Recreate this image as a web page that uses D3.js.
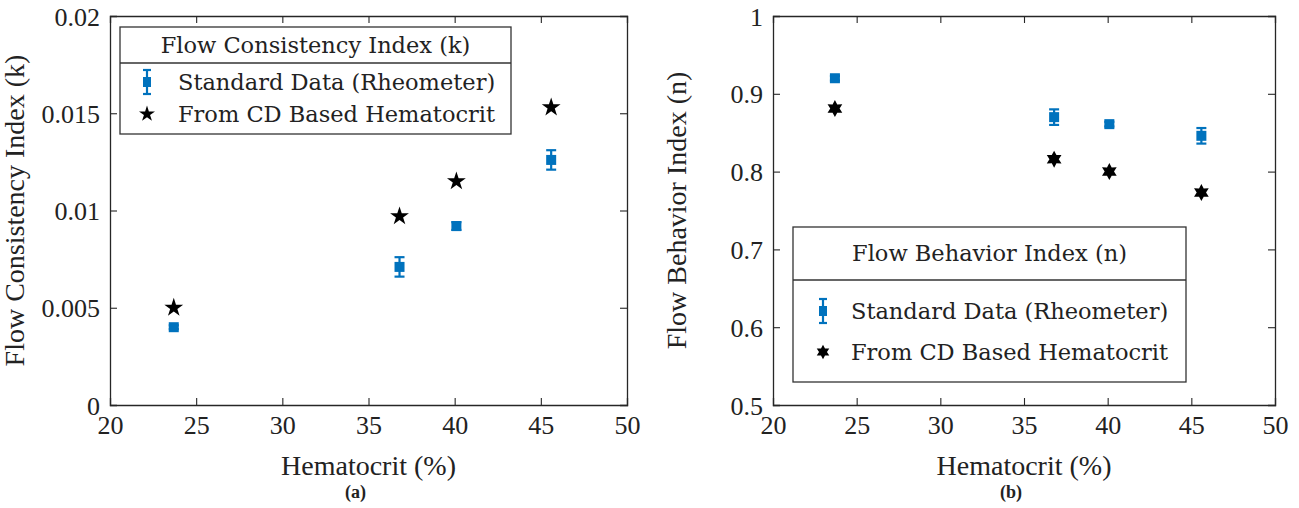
<!DOCTYPE html>
<html>
<head>
<meta charset="utf-8">
<script src="https://cdn.jsdelivr.net/npm/d3@7"></script>
<style>
  body { margin: 0; background: #fff; }
  text { font-family: "Liberation Serif", "Times New Roman", serif; fill: #222; }
</style>
</head>
<body>
<svg id="chart" width="1299" height="508"></svg>
<script>
// Data
const hematocrit = [23.7, 36.8, 40.1, 45.6];
const kStandard = [0.0040, 0.0071, 0.0092, 0.0126];
const kStandardErr = [0.0001, 0.0005, 0.0002, 0.0005];
const kFromCD = [0.0050, 0.0097, 0.0115, 0.0153];
const nStandard = [0.920, 0.870, 0.861, 0.846];
const nStandardErr = [0.003, 0.010, 0.003, 0.010];
const nFromCD = [0.881, 0.816, 0.800, 0.773];
const xTicks = [20, 25, 30, 35, 40, 45, 50];
const kTicks = [0, 0.005, 0.01, 0.015, 0.02];
const nTicks = [0.5, 0.6, 0.7, 0.8, 0.9, 1];

const blue = "#0072BD";
const svg = d3.select("#chart");

function drawPanel(opts) {
    const g = svg.append("g").attr("transform", `translate(${opts.left},${opts.top})`);
    const w = opts.width, h = opts.height;

    const x = d3.scaleLinear().domain([20, 50]).range([0, w]);
    const y = d3.scaleLinear().domain(opts.yDomain).range([h, 0]);

    // Axes (MATLAB style, ticks inside, box on)
    const tl = 7;
    const xAxis = g.append("g").attr("transform", `translate(0,${h})`)
        .call(d3.axisBottom(x).tickValues(xTicks).tickSize(-tl).tickPadding(15).tickFormat(d3.format("d")));
    const xTop = g.append("g").call(d3.axisTop(x).tickValues(xTicks).tickSize(-tl).tickFormat(""));
    const yAxis = g.append("g")
        .call(d3.axisLeft(y).tickValues(opts.yTicks).tickSize(-tl).tickPadding(10).tickFormat(d => String(d)));
    const yRight = g.append("g").attr("transform", `translate(${w},0)`)
        .call(d3.axisRight(y).tickValues(opts.yTicks).tickSize(-tl).tickFormat(""));
    [xAxis, xTop, yAxis, yRight].forEach(a => {
        a.select(".domain").attr("stroke", "#262626").attr("stroke-width", 1.3);
        a.selectAll(".tick line").attr("stroke", "#262626").attr("stroke-width", 1.1);
        a.selectAll("text").style("font-family", "Liberation Serif").style("font-size", "26px").attr("fill", "#262626");
    });
    // hide end ticks on edges
    xAxis.selectAll(".tick").filter(d => d === 20 || d === 50).select("line").remove();
    xTop.selectAll(".tick").filter(d => d === 20 || d === 50).select("line").remove();
    yAxis.selectAll(".tick").filter((d, i) => i === 0 || i === opts.yTicks.length - 1).select("line").remove();
    yRight.selectAll(".tick").filter((d, i) => i === 0 || i === opts.yTicks.length - 1).select("line").remove();
    xAxis.selectAll("text").attr("dy", "0.55em");
    yAxis.selectAll("text").attr("dy", "0.35em");

    // Axis labels
    g.append("text").attr("x", w / 2).attr("y", h + 70).attr("text-anchor", "middle")
        .style("font-size", "28px").attr("fill", "#262626").text("Hematocrit (%)");
    g.append("text").attr("transform", `translate(${opts.yLabelX},${h / 2}) rotate(-90)`)
        .attr("text-anchor", "middle").style("font-size", "28px").attr("fill", "#262626").text(opts.yLabel);
    g.append("text").attr("x", w / 2 - 13).attr("y", h + 93).attr("text-anchor", "middle")
        .style("font-size", "18px").style("font-weight", "bold").attr("fill", "#222").text(opts.caption);

    // Error bars
    const cap = 5;
    const eb = g.append("g").attr("stroke", blue).attr("stroke-width", 2.2);
    hematocrit.forEach((hv, i) => {
        const cx = x(hv), lo = y(opts.std[i] - opts.err[i]), hi = y(opts.std[i] + opts.err[i]);
        eb.append("line").attr("x1", cx).attr("x2", cx).attr("y1", lo).attr("y2", hi);
        eb.append("line").attr("x1", cx - cap).attr("x2", cx + cap).attr("y1", lo).attr("y2", lo);
        eb.append("line").attr("x1", cx - cap).attr("x2", cx + cap).attr("y1", hi).attr("y2", hi);
    });
    // Square markers
    g.selectAll(".sq").data(hematocrit).enter().append("rect")
        .attr("x", (d, i) => x(d) - 5).attr("y", (d, i) => y(opts.std[i]) - 5)
        .attr("width", 10).attr("height", 10).attr("fill", blue);
    // Star markers
    g.selectAll(".st").data(hematocrit).enter().append("path")
        .attr("d", opts.starPath)
        .attr("transform", (d, i) => `translate(${x(d)},${y(opts.cd[i])})`)
        .attr("fill", "#000");

    // Legend
    const L = opts.legend;
    const lg = svg.append("g").attr("transform", `translate(${L.x},${L.y})`);
    lg.append("rect").attr("width", L.w).attr("height", L.h).attr("fill", "#fff")
        .attr("stroke", "#333").attr("stroke-width", 1.3);
    lg.append("line").attr("x1", 0).attr("x2", L.w).attr("y1", L.sep).attr("y2", L.sep)
        .attr("stroke", "#333").attr("stroke-width", 1.3);
    lg.append("text").attr("x", L.w / 2).attr("y", L.sep / 2).attr("dy", "0.35em").attr("text-anchor", "middle")
        .style("font-family", "DejaVu Serif").style("font-size", "22.5px").attr("fill", "#111").text(opts.legendTitle);
    const rows = [L.sep + L.row1, L.sep + L.row2];
    // errorbar symbol
    const ex = L.symX, ey = rows[0];
    const lsym = lg.append("g").attr("stroke", blue).attr("stroke-width", 2.2);
    lsym.append("line").attr("x1", ex).attr("x2", ex).attr("y1", ey - 12).attr("y2", ey + 12);
    lsym.append("line").attr("x1", ex - 4).attr("x2", ex + 4).attr("y1", ey - 12).attr("y2", ey - 12);
    lsym.append("line").attr("x1", ex - 4).attr("x2", ex + 4).attr("y1", ey + 12).attr("y2", ey + 12);
    lg.append("rect").attr("x", ex - 4).attr("y", ey - 5).attr("width", 8).attr("height", 10).attr("fill", blue);
    lg.append("path").attr("d", opts.starPath).attr("transform", `translate(${ex},${rows[1]}) scale(0.85)`).attr("fill", "#000");
    ["Standard Data (Rheometer)", "From CD Based Hematocrit"].forEach((t, i) => {
        lg.append("text").attr("x", L.textX).attr("y", rows[i]).attr("dy", "0.35em")
            .style("font-family", "DejaVu Serif").style("font-size", "22.5px").attr("fill", "#111").text(t);
    });
}

const star5 = d3.symbol().type(d3.symbolStar).size(110)();
function hexagram(r) {
    const pts = [];
    for (let i = 0; i < 12; i++) {
        const a = -Math.PI / 2 + i * Math.PI / 6;
        const rr = i % 2 === 0 ? r : r * 0.55;
        pts.push([rr * Math.cos(a), rr * Math.sin(a)]);
    }
    return "M" + pts.map(p => p.join(",")).join("L") + "Z";
}

drawPanel({
    left: 110, top: 16, width: 517, height: 389,
    yDomain: [0, 0.02], yTicks: kTicks, yLabel: "Flow Consistency Index (k)", yLabelX: -86,
    caption: "(a)", std: kStandard, err: kStandardErr, cd: kFromCD, starPath: star5,
    legend: { x: 120, y: 27, w: 391, h: 107, sep: 36, row1: 19, row2: 51, symX: 27, textX: 58 },
    legendTitle: "Flow Consistency Index (k)"
});

drawPanel({
    left: 773, top: 16, width: 502, height: 389,
    yDomain: [0.5, 1], yTicks: nTicks, yLabel: "Flow Behavior Index (n)", yLabelX: -87,
    caption: "(b)", std: nStandard, err: nStandardErr, cd: nFromCD, starPath: hexagram(8.5),
    legend: { x: 793, y: 227, w: 393, h: 155, sep: 53, row1: 31, row2: 72, symX: 30, textX: 58 },
    legendTitle: "Flow Behavior Index (n)"
});
</script>
</body>
</html>
